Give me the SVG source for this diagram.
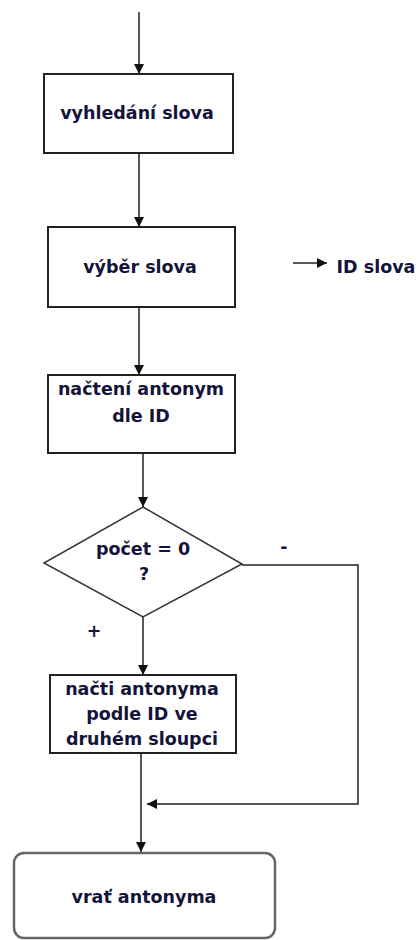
<svg xmlns="http://www.w3.org/2000/svg" width="420" height="940" viewBox="0 0 420 940">
<defs>
<marker id="ah" markerUnits="userSpaceOnUse" markerWidth="10" markerHeight="10" refX="10" refY="5" orient="auto">
<path d="M0,0 L10,5 L0,10 z" fill="#111"/>
</marker>
<style>
.box{fill:#fff;stroke:#222;stroke-width:2}
.term{fill:#fff;stroke:#666;stroke-width:2.5}
.t{font-family:"DejaVu Sans",Verdana,sans-serif;font-weight:bold;font-size:17.5px;fill:#14143a;text-anchor:middle}
.c{fill:none;stroke:#222;stroke-width:1.5}
</style>
</defs>
<rect width="420" height="940" fill="#fff"/>
<g id="connectors">
<line class="c" x1="139" y1="12" x2="139" y2="74" marker-end="url(#ah)"/>
<line class="c" x1="139" y1="153" x2="139" y2="227" marker-end="url(#ah)" stroke="#555"/>
<line class="c" x1="293" y1="263" x2="327" y2="263" marker-end="url(#ah)"/>
<line class="c" x1="139" y1="307" x2="139" y2="375" marker-end="url(#ah)"/>
<line class="c" x1="143" y1="453" x2="143" y2="507" marker-end="url(#ah)"/>
<line class="c" x1="143" y1="617" x2="143" y2="675" marker-end="url(#ah)"/>
<polyline class="c" points="242,565 358,565 358,804 147,804" marker-end="url(#ah)"/>
<line class="c" x1="141" y1="753" x2="141" y2="852" stroke-width="2.5" marker-end="url(#ah)"/>
<text class="t" x="284" y="553">-</text>
<text class="t" x="94" y="637">+</text>
</g>
<g id="n1">
<rect class="box" x="44" y="74" width="189" height="79"/>
<text class="t" x="137" y="119">vyhledání slova</text>
</g>
<g id="n2">
<rect class="box" x="48" y="227" width="187" height="80"/>
<text class="t" x="140" y="273">výběr slova</text>
</g>
<g id="n_id">
<text class="t" x="376" y="273">ID slova</text>
</g>
<g id="n3">
<rect class="box" x="48" y="375" width="187" height="78"/>
<text class="t" x="141" y="395">načtení antonym</text>
<text class="t" x="141" y="422">dle ID</text>
</g>
<g id="n4">
<polygon points="143,507 242,564 143,617 44,563" fill="#fff" stroke="#333" stroke-width="1.5"/>
<text class="t" x="143" y="555">počet = 0</text>
<text class="t" x="144" y="580">?</text>
</g>
<g id="n5">
<rect class="box" x="50" y="675" width="186" height="78"/>
<text class="t" x="142" y="695">načti antonyma</text>
<text class="t" x="142" y="720">podle ID ve</text>
<text class="t" x="142" y="745">druhém sloupci</text>
</g>
<g id="n6">
<rect class="term" x="14" y="853" width="261" height="85" rx="10"/>
<text class="t" x="144" y="903">vrať antonyma</text>
</g>
</svg>
